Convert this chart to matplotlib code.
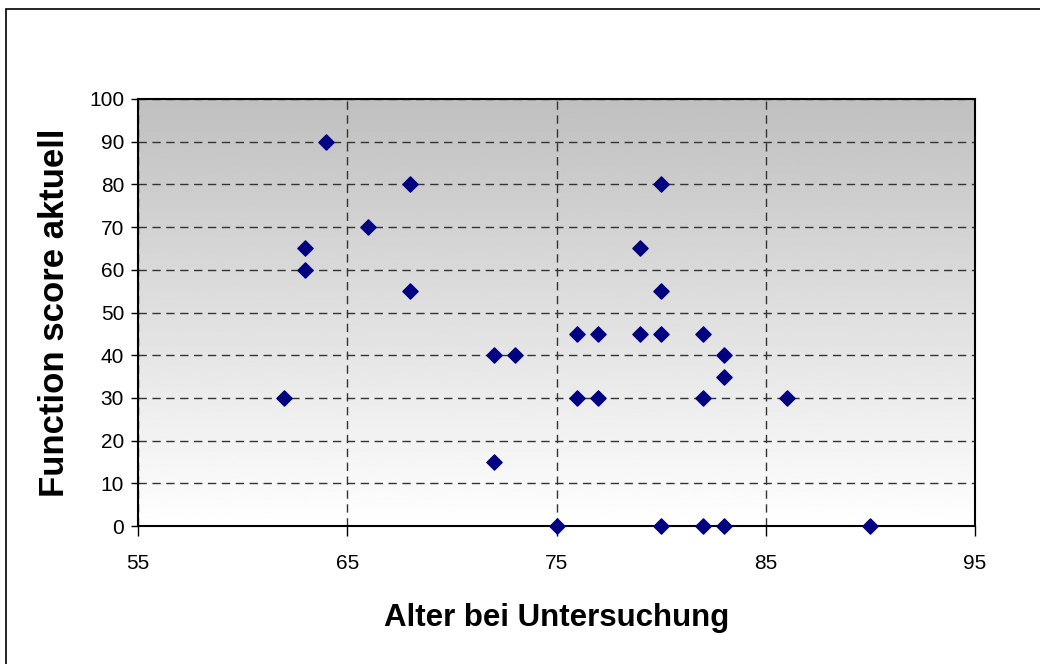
import numpy as np
import matplotlib
matplotlib.use("Agg")
import matplotlib.pyplot as plt
from matplotlib.patches import Rectangle

plt.rcParams['font.family'] = ['Liberation Sans', 'DejaVu Sans']

# Data
alter = [62, 63, 63, 64, 66, 68, 68, 72, 72, 73, 75, 76, 76, 77, 77,
         79, 79, 80, 80, 80, 80, 82, 82, 82, 83, 83, 83, 86, 90]
score = [30, 65, 60, 90, 70, 80, 55, 40, 15, 40, 0, 45, 30, 45, 30,
         65, 45, 80, 55, 45, 0, 45, 30, 0, 40, 35, 0, 30, 0]

x_ticks = [55, 65, 75, 85, 95]
y_ticks = list(range(0, 101, 10))

fig = plt.figure(figsize=(10.4, 6.64), dpi=100)

# outer chart frame (runs off the right and bottom edges)
fig.patches.append(Rectangle((6 / 1040, -0.05), 1.2, 1 - 9 / 664 + 0.05,
                             transform=fig.transFigure, fill=False,
                             edgecolor="black", linewidth=1.2))

ax = fig.add_axes([138 / 1040, 1 - 526 / 664, 837 / 1040, 427 / 664])

# gradient background, gray at top to white at bottom
grad = np.linspace(0.75, 1.0, 256).reshape(-1, 1)
ax.imshow(grad, cmap="gray", vmin=0, vmax=1, aspect="auto",
          extent=[0, 1, 0, 1], transform=ax.transAxes, zorder=0)

ax.scatter(alter, score, marker="D", s=60, color="#000080", zorder=3,
           clip_on=False)

ax.set_xlim(55, 95)
ax.set_ylim(0, 100)
ax.set_xticks(x_ticks)
ax.set_yticks(y_ticks)
ax.tick_params(labelsize=15, width=1, direction="out")
ax.tick_params(axis="x", length=7, pad=13)
ax.tick_params(axis="y", length=5, pad=5)

ax.grid(True, color="#333333", linestyle=(0, (6, 4)), linewidth=1, zorder=1)
ax.set_axisbelow(True)
for s in ax.spines.values():
    s.set_linewidth(1.5)
    s.set_zorder(2)

ax.set_xlabel("Alter bei Untersuchung", fontsize=22.5, fontweight="bold",
              labelpad=22)
ax.set_ylabel("Function score aktuell", fontsize=25, fontweight="bold",
              labelpad=13)

fig.savefig("out.png", dpi=100)
